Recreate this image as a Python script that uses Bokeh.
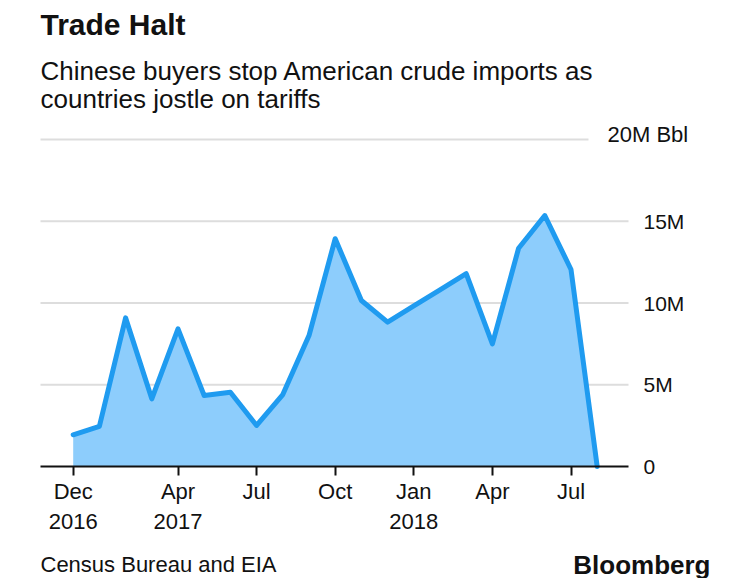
from bokeh.plotting import figure
from bokeh.models import Range1d, FixedTicker, LinearAxis, Label, ColumnDataSource
from bokeh.embed import file_html
from bokeh.resources import INLINE

# ---- data ----
months = ["Dec 2016", "Jan 2017", "Feb 2017", "Mar 2017", "Apr 2017", "May 2017", "Jun 2017",
          "Jul 2017", "Aug 2017", "Sep 2017", "Oct 2017", "Nov 2017", "Dec 2017",
          "Jan 2018", "Feb 2018", "Mar 2018", "Apr 2018", "May 2018", "Jun 2018",
          "Jul 2018", "Aug 2018"]
imports_mbbl = [1.94, 2.46, 9.09, 4.14, 8.42, 4.34, 4.54, 2.51, 4.4, 8.01, 13.93, 10.15, 8.83,
                9.82, 10.81, 11.79, 7.5, 13.35, 15.35, 12.05, 0.0]
x_tick_months = ["Dec 2016", "Apr 2017", "Jul 2017", "Oct 2017", "Jan 2018", "Apr 2018", "Jul 2018"]
x_tick_labels = ["Dec\n2016", "Apr\n2017", "Jul", "Oct", "Jan\n2018", "Apr", "Jul"]
y_ticks = [0, 5, 10, 15]
y_tick_labels = ["0", "5M", "10M", "15M"]
y_top = 20
y_top_label = "20M Bbl"

title = "Trade Halt"
subtitle = ["Chinese buyers stop American crude imports as", "countries jostle on tariffs"]
source_note = "Census Bureau and EIA"
brand = "Bloomberg"

FONT = "Liberation Sans"
LINE = "#1f9bf0"
FILL = "#8dcdfc"
GRID = "#dddddd"
TXT = "#111111"

W, H = 750, 578
# pixel layout of the plotting area inside the canvas
X0_PX, PX_PER_MONTH = 72.7, 26.2      # first month position, month spacing
Y0_PX, PX_PER_UNIT = 466.0, 16.35     # zero line, px per million bbl
AX_LEFT_PX, AX_RIGHT_PX, GRID20_RIGHT_PX = 40, 628, 588
LABEL_DY = 10  # measured offset of Label baseline in screen units

def dx(px):
    return (px - X0_PX) / PX_PER_MONTH

def dy(py):
    return (Y0_PX - py) / PX_PER_UNIT

idx = list(range(len(months)))
src = ColumnDataSource(dict(x=idx, y=imports_mbbl))

p = figure(width=W, height=H, output_backend="svg", toolbar_location=None,
           x_range=Range1d(dx(0), dx(W)), y_range=Range1d(dy(H), dy(0)),
           min_border=0)
p.outline_line_color = None
p.background_fill_color = "white"
p.border_fill_color = "white"
p.xgrid.visible = False
p.ygrid.visible = False

# gridlines
gl = [5, 10, 15]
p.segment(x0=[dx(AX_LEFT_PX)] * len(gl), x1=[dx(AX_RIGHT_PX)] * len(gl), y0=gl, y1=gl,
          line_color=GRID, line_width=2)
p.segment(x0=dx(AX_LEFT_PX), x1=dx(GRID20_RIGHT_PX), y0=y_top, y1=y_top, line_color=GRID, line_width=2)

p.varea(x="x", y1=0, y2="y", source=src, fill_color=FILL)
p.line(x="x", y="y", source=src, line_color=LINE, line_width=5, line_join="round", line_cap="round")

# x axis (fixed at zero)
xa = p.xaxis[0]
xa.fixed_location = 0
xa.bounds = (dx(AX_LEFT_PX), dx(AX_RIGHT_PX))
xa.ticker = FixedTicker(ticks=[months.index(m) for m in x_tick_months])
xa.major_label_overrides = {months.index(m): l for m, l in zip(x_tick_months, x_tick_labels)}
xa.axis_line_color = TXT
xa.axis_line_width = 2
xa.major_tick_line_color = TXT
xa.major_tick_line_width = 2
xa.major_tick_in = 0
xa.major_tick_out = 9
xa.minor_tick_line_color = None
xa.major_label_text_font = FONT
xa.major_label_text_font_size = "22px"
xa.major_label_text_color = TXT
xa.major_label_standoff = 3

# y axis labels on the right
p.yaxis.visible = False
ra = LinearAxis(ticker=FixedTicker(ticks=y_ticks),
                major_label_overrides={t: l for t, l in zip(y_ticks, y_tick_labels)},
                fixed_location=dx(AX_RIGHT_PX), bounds=(0, 15))
ra.axis_line_color = None
ra.major_tick_line_color = None
ra.minor_tick_line_color = None
ra.major_label_standoff = 9
ra.major_label_text_font = FONT
ra.major_label_text_font_size = "21px"
ra.major_label_text_color = TXT
p.add_layout(ra, "right")

def lab(text, cx, cy_base, size, bold=False, align="left"):
    p.add_layout(Label(x=cx, y=H - cy_base + LABEL_DY, x_units="screen", y_units="screen",
                       text=text, text_font=FONT, text_font_size=size,
                       text_font_style="bold" if bold else "normal",
                       text_color=TXT, text_align=align, text_baseline="alphabetic"))

lab(y_top_label, 607, 144, "22px")
lab(title, 40, 34, "30px", bold=True)
lab(subtitle[0], 40, 80, "26px")
lab(subtitle[1], 40, 108, "26px")
lab(source_note, 40, 574, "22px")
lab(brand, 710, 574, "26px", bold=True, align="right")

open("out.html", "w").write(file_html(p, INLINE))
